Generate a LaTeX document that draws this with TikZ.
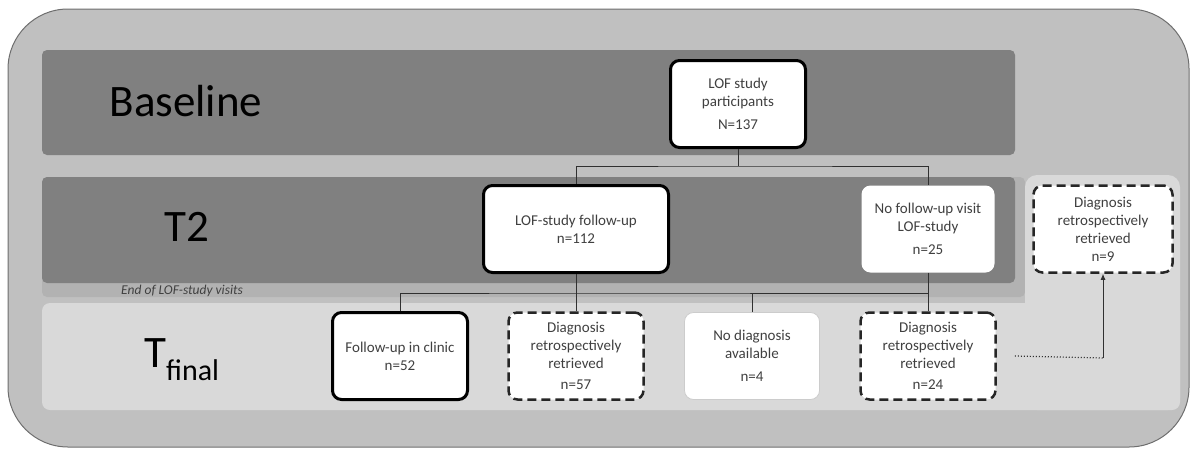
\documentclass[tikz,border=0pt]{standalone}
\usepackage{fontspec}
\setmainfont{Carlito}
\usetikzlibrary{arrows.meta}
\definecolor{outerfill}{HTML}{C0C0C0}
\definecolor{outerdraw}{HTML}{6E6E6E}
\definecolor{banddark}{HTML}{808080}
\definecolor{bandstrip}{HTML}{B2B2B2}
\definecolor{bandlight}{HTML}{D9D9D9}
\definecolor{textgray}{HTML}{404040}
\definecolor{linegray}{HTML}{303030}
\newcommand\boxfont{\fontsize{15}{18}\selectfont}
\newcommand\bandfont{\fontsize{45}{50}\selectfont}
\tikzset{
  band/.style={fill=#1, draw=none, rounded corners=5pt},
  flowbox/.style={rounded corners=9pt, fill=white, align=center, font=\boxfont,
    text=textgray, minimum width=135pt, minimum height=87pt, inner sep=2pt},
  solidbox/.style={flowbox, draw=black, line width=3pt},
  dashbox/.style={flowbox, draw=black!85, line width=2.5pt, dash pattern=on 9pt off 5pt},
  plainbox/.style={flowbox, draw=black!20, line width=0.8pt},
  conn/.style={draw=linegray, line width=1pt},
  bandlabel/.style={font=\bandfont, text=black, inner sep=0pt}
}
\begin{document}
\begin{tikzpicture}[x=1pt,y=-1pt]
\useasboundingbox (0,0) rectangle (1190,450);
% outer container
\draw[fill=outerfill, draw=outerdraw, line width=1pt, rounded corners=60pt] (8,9) rectangle (1189,447);
% bands
\fill[band=banddark] (42,50) rectangle (1015,155);
\fill[band=bandstrip] (42,177) rectangle (1025,297);
\fill[band=banddark] (42,177) rectangle (1015,283);
\fill[band=bandlight, rounded corners=8pt] (42,303) rectangle (1180,410);
\fill[band=bandlight, rounded corners=12pt] (1025,175) rectangle (1180,410);
% band labels
\node[bandlabel] (lbase) at (186,101) {Baseline};
\node[bandlabel] (lt2) at (187,227) {T2};
\node[bandlabel, anchor=base west] (ltf) at (144,367) {T\raisebox{-13pt}{\fontsize{30}{32}\selectfont final}};
\node[font=\fontsize{13.5}{15}\selectfont\itshape, text=textgray, anchor=west, inner sep=0pt] (lend) at (121,291) {End of LOF-study visits};
% boxes
\node[solidbox] (p) at (738,104) {LOF study\\participants\\[5pt]N=137};
\node[solidbox, minimum width=185pt] (f) at (576,229) {LOF-study follow-up\\n=112};
\node[flowbox, draw=none, minimum width=133pt] (nf) at (928,229) {No follow-up visit\\LOF-study\\[5pt]n=25};
\node[dashbox, minimum width=139pt] (d9) at (1103,229) {Diagnosis\\retrospectively\\retrieved\\n=9};
\node[solidbox] (c) at (400,356) {Follow-up in clinic\\n=52};
\node[dashbox] (d57) at (576,356) {Diagnosis\\retrospectively\\retrieved\\[3pt]n=57};
\node[plainbox] (na) at (752,356) {No diagnosis\\available\\[5pt]n=4};
\node[dashbox] (d24) at (928,356) {Diagnosis\\retrospectively\\retrieved\\[3pt]n=24};
% connectors
\coordinate (h1) at (738,166);
\draw[conn] (p.south) -- (h1);
\draw[conn] (f.north) |- (h1) -| (nf.north);
\coordinate (h2) at (576,293);
\draw[conn] (f.south) -- (h2);
\draw[conn] (c.north) |- (h2) -| (d24.north);
\draw[conn] (d57.north) -- (d57.north |- h2);
\draw[conn] (na.north) -- (na.north |- h2);
\draw[conn] (nf.south) -- (nf.south |- h2);
\coordinate (k) at (1103,358);
\draw[conn, dotted, line width=1.2pt] ([xshift=18pt]d24.east) -- (k);
\draw[conn, -{Latex[length=6pt,width=5pt]}] (k) -- (d9.south);
\end{tikzpicture}
\end{document}
